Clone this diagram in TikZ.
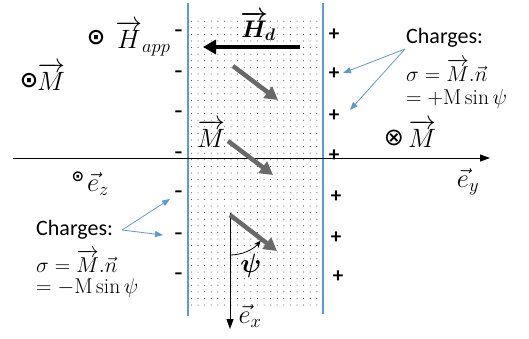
\RequirePackage{fix-cm}
\documentclass[tikz,border=0pt]{standalone}
\usepackage{amsmath}
\usepackage{fontspec}
\newfontfamily\carl{Carlito}
\newfontfamily\djv{DejaVu Sans}
\usetikzlibrary{arrows.meta,patterns.meta}
\definecolor{lineblue}{RGB}{91,155,213}
\definecolor{arrgray}{RGB}{105,105,105}
\begin{document}
\begin{tikzpicture}[x=1pt,y=-1pt,
 big/.style={font=\fontsize{26.5}{30}\selectfont, inner sep=0pt},
 dotsym/.style={font=\djv\bfseries\fontsize{22}{22}\selectfont, inner sep=0pt},
 chgt/.style={font=\carl\fontsize{22}{24}\selectfont, inner sep=0pt, anchor=west},
 chgm/.style={font=\fontsize{21.5}{24}\selectfont, inner sep=0pt, anchor=west},
 minus/.style={font=\fontsize{21}{21}\selectfont\bfseries, inner sep=0pt},
 plus/.style={font=\carl\fontsize{21}{21}\selectfont\bfseries, inner sep=0pt},
 magarrow/.style={arrgray, line width=4.5pt, -{Triangle[length=13pt,width=14pt]}},
 hdarrow/.style={black, line width=4.5pt, -{Triangle[length=13pt,width=14pt]}},
 bluearr/.style={lineblue, line width=0.8pt, -{Triangle[length=8pt,width=6pt]}},
 axis/.style={line width=1pt, -{Triangle[length=10pt,width=7pt]}},
 wall/.style={lineblue, line width=1.8pt}]
\useasboundingbox (0,0) rectangle (529,338);
% dotted strip
\fill[pattern={Dots[distance=6.6pt,radius=0.5pt]}, pattern color=black!85] (190,20) rectangle (321,306);
% walls
\coordinate (wl1) at (188,3); \coordinate (wl2) at (188,316);
\coordinate (wr1) at (323,3); \coordinate (wr2) at (323,314);
\draw[wall] (wl1) -- (wl2);
\draw[wall] (wr1) -- (wr2);
% axes
\coordinate (yl) at (13,158); \coordinate (yr) at (490,158);
\draw[axis] (yl) -- (yr);
\coordinate (x0) at (230,213); \coordinate (x1) at (230,329);
\draw[axis] (x0) -- (x1);
% charges signs
\foreach \i/\y in {1/33,2/74,3/114,4/155,5/194,6/236,7/276}
  \node[minus] (m\i) at (179,\y) {-};
\foreach \i/\x/\y in {1/334/35,2/334/74,3/334/116,4/334/156,5/336/197,6/336/238,7/338/277}
  \node[plus] (p\i) at (\x,\y) {+};
% H_d
\node[big, font=\fontsize{24}{28}\selectfont] (Hd) at (258,26) {$\boldsymbol{\overrightarrow{H}_{\!d}}$};
\coordinate (hd1) at (300,47); \coordinate (hd2) at (203,47);
\draw[hdarrow] (hd1) -- (hd2);
% magnetization arrows
\coordinate (ga1) at (233,66); \coordinate (gb1) at (278,100);
\coordinate (ga2) at (228,141); \coordinate (gb2) at (273,175);
\coordinate (ga3) at (230,215); \coordinate (gb3) at (277,251);
\draw[magarrow] (ga1) -- (gb1);
\draw[magarrow] (ga2) -- (gb2);
\draw[magarrow] (ga3) -- (gb3);
% psi arc
\coordinate (ps0) at (230,255);
\draw[line width=0.8pt, -{Stealth[length=7pt,width=6pt]}] (ps0) arc[start angle=90, end angle=40, radius=40];
\node[big] (psi) at (251,266) {$\boldsymbol{\psi}$};
% labels
\node[dotsym] (odH) at (96,38) {⊙};
\node[big] (Happ) at (143,38) {$\overrightarrow{H}_{app}$};
\node[dotsym] (odM) at (29,81) {⊙};
\node[big] (Mz) at (51,77) {$\overrightarrow{M}$};
\node[big] (Mstrip) at (211,134) {$\overrightarrow{M}$};
\node[font=\djv\fontsize{24}{24}\selectfont, inner sep=0pt] (otM) at (394,138) {⊗};
\node[big] (Mx) at (422,134) {$\overrightarrow{M}$};
\node[dotsym, font=\djv\bfseries\fontsize{15}{15}\selectfont] (ezdot) at (78,177) {⊙};
\node[big] (ez) at (98,184) {$\vec{e}_z$};
\node[big] (ey) at (468,182) {$\vec{e}_y$};
\node[big] (ex) at (250,316) {$\vec{e}_x$};
% charges text (right)
\node[chgt] (cr1t) at (406,38) {Charges:};
\node[chgm] (cr2t) at (406,70) {$\sigma=\overrightarrow{M}.\vec{n}$};
\node[chgm] (cr3t) at (406,99) {$=+\mathrm{M}\sin\psi$};
% charges text (left)
\node[chgt] (cl1t) at (36,230) {Charges:};
\node[chgm] (cl2t) at (36,261) {$\sigma=\overrightarrow{M}.\vec{n}$};
\node[chgm] (cl3t) at (36,288) {$=-\mathrm{M}\sin\psi$};
\coordinate (cr0) at (405,49);
\coordinate (cr1) at (343,73); \coordinate (cr2) at (350,110);
\draw[bluearr] (cr0) -- (cr1);
\draw[bluearr] (cr0) -- (cr2);
\coordinate (cl0) at (122,230);
\coordinate (cl1) at (170,199); \coordinate (cl2) at (163,235);
\draw[bluearr] (cl0) -- (cl1);
\draw[bluearr] (cl0) -- (cl2);
\end{tikzpicture}
\end{document}
